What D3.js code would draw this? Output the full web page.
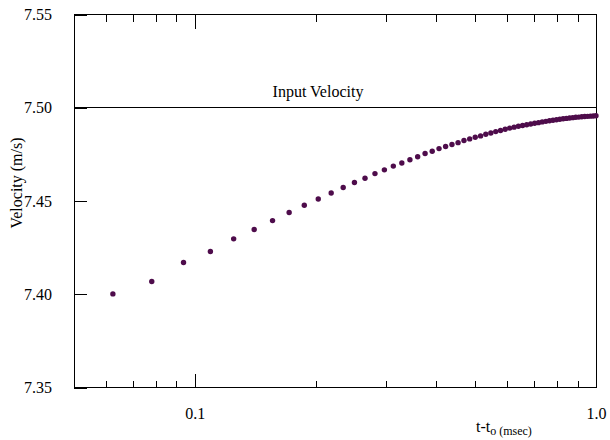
<!DOCTYPE html>
<html>
<head>
<meta charset="utf-8">
<script src="https://cdn.jsdelivr.net/npm/d3@7"></script>
<style>
  body { margin: 0; background: #fff; }
  .axis path, .axis line { stroke: #000; stroke-width: 1; shape-rendering: crispEdges; }
  .axis .domain { display: none; }
</style>
</head>
<body>
<svg id="chart" width="610" height="440"></svg>
<script>
// elapsed time t - t0 (msec)
const times = [
  0.0625, 0.078125, 0.09375, 0.109375, 0.125, 0.140625, 0.15625, 0.171875,
  0.1875, 0.203125, 0.21875, 0.234375, 0.25, 0.265625, 0.28125, 0.296875,
  0.3125, 0.328125, 0.34375, 0.359375, 0.375, 0.390625, 0.40625, 0.421875,
  0.4375, 0.453125, 0.46875, 0.484375, 0.5, 0.515625, 0.53125, 0.546875,
  0.5625, 0.578125, 0.59375, 0.609375, 0.625, 0.640625, 0.65625, 0.671875,
  0.6875, 0.703125, 0.71875, 0.734375, 0.75, 0.765625, 0.78125, 0.796875,
  0.8125, 0.828125, 0.84375, 0.859375, 0.875, 0.890625, 0.90625, 0.921875,
  0.9375, 0.953125, 0.96875, 0.984375, 1.0
]
// measured velocity (m/s)
const velocity = [
  7.4002, 7.4068, 7.4170, 7.4229, 7.4297, 7.4347, 7.4395, 7.4438,
  7.4477, 7.4511, 7.4543, 7.4572, 7.4599, 7.4622, 7.4647, 7.4667,
  7.4687, 7.4704, 7.4721, 7.4737, 7.4755, 7.4767, 7.4781, 7.4792,
  7.4803, 7.4813, 7.4824, 7.4833, 7.4842, 7.4849, 7.4858, 7.4865,
  7.4872, 7.4878, 7.4885, 7.4891, 7.4896, 7.4901, 7.4905, 7.4909,
  7.4913, 7.4917, 7.4920, 7.4924, 7.4927, 7.4930, 7.4933, 7.4936,
  7.4938, 7.4941, 7.4943, 7.4945, 7.4947, 7.4949, 7.4950, 7.4952,
  7.4953, 7.4954, 7.4955, 7.4956, 7.4957
]
const inputVelocity = 7.50

const xMajorTicks = [0.1, 1.0]
const xMinorTicks = [0.06, 0.07, 0.08, 0.09, 0.2, 0.3, 0.4, 0.5, 0.6, 0.7, 0.8, 0.9]
const yTicks = [7.35, 7.40, 7.45, 7.50, 7.55]

const serif = 'Liberation Serif, DejaVu Serif, serif'

const margin = { left: 74, right: 14, top: 14.5, bottom: 52.5 }
const width = 610, height = 440

const svg = d3.select('#chart')

const xscale = d3.scaleLog()
  .domain([0.05, 1])
  .range([margin.left, width - margin.right])

const yscale = d3.scaleLinear()
  .domain([7.35, 7.55])
  .range([height - margin.bottom, margin.top])

const x0 = margin.left, x1 = width - margin.right
const y0 = height - margin.bottom, y1 = margin.top

const styleTicks = g => g.attr('font-family', null).attr('font-size', null)
  .selectAll('text').attr('fill', '#000')
    .style('font-family', serif).style('font-size', '16px')

// bottom axis: major ticks with labels, minor ticks without
svg.append('g')
  .attr('class', 'axis')
  .attr('transform', `translate(0, ${y0})`)
  .call(d3.axisBottom(xscale).tickValues(xMajorTicks).tickSize(-14).tickPadding(20)
    .tickFormat(d => d === 1 ? '1.0' : '0.1'))
  .call(styleTicks)

svg.append('g')
  .attr('class', 'axis')
  .attr('transform', `translate(0, ${y0})`)
  .call(d3.axisBottom(xscale).tickValues(xMinorTicks).tickSize(-7).tickFormat(''))

// top axis (ticks only)
svg.append('g')
  .attr('class', 'axis')
  .attr('transform', `translate(0, ${y1})`)
  .call(d3.axisTop(xscale).tickValues(xMajorTicks).tickSize(-14).tickFormat(''))

svg.append('g')
  .attr('class', 'axis')
  .attr('transform', `translate(0, ${y1})`)
  .call(d3.axisTop(xscale).tickValues(xMinorTicks).tickSize(-7).tickFormat(''))

// left axis
svg.append('g')
  .attr('class', 'axis')
  .attr('transform', `translate(${x0}, 0)`)
  .call(d3.axisLeft(yscale).tickValues(yTicks).tickSize(-13).tickPadding(22)
    .tickFormat(d3.format('.2f')))
  .call(styleTicks)

// frame
svg.append('rect')
  .attr('x', x0)
  .attr('y', y1)
  .attr('width', x1 - x0)
  .attr('height', y0 - y1)
  .attr('fill', 'none')
  .attr('stroke', '#000')
  .attr('stroke-width', 1)
  .attr('shape-rendering', 'crispEdges')

// input velocity reference line
svg.append('line')
  .attr('x1', x0)
  .attr('x2', x1)
  .attr('y1', yscale(inputVelocity))
  .attr('y2', yscale(inputVelocity))
  .attr('stroke', '#000')
  .attr('stroke-width', 1)
  .attr('shape-rendering', 'crispEdges')

svg.append('text')
  .attr('x', 318)
  .attr('y', yscale(inputVelocity) - 11)
  .attr('text-anchor', 'middle')
  .style('font-family', serif)
  .style('font-size', '16px')
  .text('Input Velocity')

// data points
svg.append('g')
  .selectAll('circle')
  .data(times.map((t, i) => ({ t, v: velocity[i] })))
  .join('circle')
  .attr('cx', d => xscale(d.t))
  .attr('cy', d => yscale(d.v))
  .attr('r', 2.7)
  .attr('fill', '#4e0c4b')

// axis titles
svg.append('text')
  .attr('transform', 'translate(22, 183) rotate(-90)')
  .attr('text-anchor', 'middle')
  .style('font-family', serif)
  .style('font-size', '16px')
  .text('Velocity (m/s)')

const xlab = svg.append('text')
  .attr('x', 476)
  .attr('y', 432)
  .style('font-family', serif)
  .style('font-size', '16px')
xlab.append('tspan').text('t-t')
xlab.append('tspan').attr('dy', 3).style('font-size', '12px').text('o (msec)')
</script>
</body>
</html>
